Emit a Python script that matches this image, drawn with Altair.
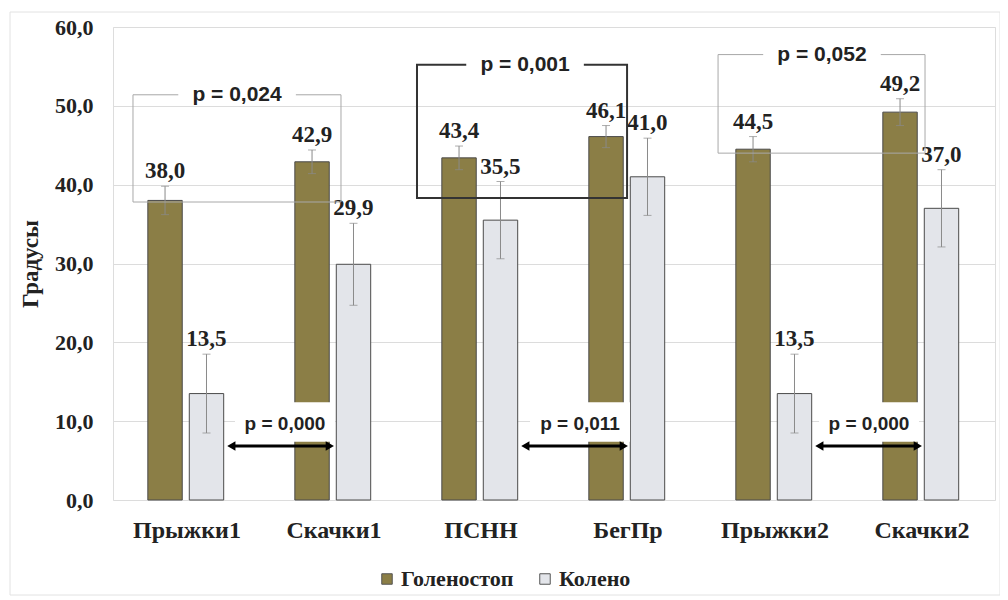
import json
import altair as alt
import pandas as pd

# ---------------- data ----------------
categories = ["Прыжки1", "Скачки1", "ПСНН", "БегПр", "Прыжки2", "Скачки2"]
series = ["Голеностоп", "Колено"]
ankle = [38.0, 42.9, 43.4, 46.1, 44.5, 49.2]
ankle_err = [1.8, 1.5, 1.5, 1.4, 1.6, 1.7]
knee = [13.5, 29.9, 35.5, 41.0, 13.5, 37.0]
knee_err = [5.0, 5.2, 4.9, 4.9, 5.0, 4.9]

# upper brackets (x in category units, y in degrees)
bracket_labels = ["p = 0,024", "p = 0,001", "p = 0,052"]
bracket_x1 = [0.136, 2.068, 4.116]
bracket_x2 = [1.551, 3.497, 5.524]
bracket_top = [51.4, 55.2, 56.5]
bracket_bottom = [37.8, 38.3, 44.0]
bracket_label_x = [0.844, 2.803, 4.823]

# lower double arrows
arrow_labels = ["p = 0,000", "p = 0,011", "p = 0,000"]
arrow_x1 = [0.77, 2.77, 4.77]
arrow_x2 = [1.51, 3.51, 5.51]
arrow_y = [6.85, 6.85, 6.85]
arrow_label_x = [1.17, 3.177, 5.143]
arrow_label_y = [9.6, 9.6, 9.6]

OLIVE = "#8B7E46"
LIGHT = "#E3E5EA"

# ---------------- tables ----------------
rows = []
for i, c in enumerate(categories):
    for s, vals, errs, off in ((series[0], ankle, ankle_err, 0.354),
                               (series[1], knee, knee_err, 0.636)):
        v, e = vals[i], errs[i]
        rows.append(dict(cat=c, series=s, center=i + off,
                         left=i + off - 0.117, right=i + off + 0.117,
                         value=v, zero=0.0, lo=v - e, hi=v + e,
                         label=f"{v:.1f}".replace(".", ",")))
bars_df = pd.DataFrame(rows)

br_df = pd.DataFrame(dict(label=bracket_labels, x1=bracket_x1, x2=bracket_x2,
                          top=bracket_top, bottom=bracket_bottom,
                          lx=bracket_label_x))
br_df["bgx1"] = br_df["lx"] - 0.40
br_df["bgx2"] = br_df["lx"] + 0.40
br_df["bgy1"] = br_df["top"] - 0.7
br_df["bgy2"] = br_df["top"] + 0.7

ar_df = pd.DataFrame(dict(label=arrow_labels, x1=arrow_x1, x2=arrow_x2,
                          y=arrow_y, lx=arrow_label_x, ly=arrow_label_y))
ar_df["h1"] = ar_df["x1"] + 0.035
ar_df["h2"] = ar_df["x2"] - 0.035
ar_df["bx1"] = ar_df["lx"] - 0.34
ar_df["bx2"] = ar_df["lx"] + 0.34
ar_df["by1"] = ar_df["y"] + 0.55
ar_df["by2"] = ar_df["ly"] + 2.8

# ---------------- scales / axes ----------------
cat_expr = "%s[floor(datum.value)]" % json.dumps(categories, ensure_ascii=False)
xscale = alt.Scale(domain=[0, len(categories)], nice=False, zero=False)
yscale = alt.Scale(domain=[0, 60], nice=False)

xaxis = alt.Axis(values=[i + 0.5 for i in range(len(categories))],
                 labelExpr=cat_expr, grid=False, ticks=False, domain=False,
                 title=None, labelFont="Liberation Serif", labelFontSize=24,
                 labelFontWeight="bold", labelColor="#222222", labelPadding=18)
yaxis = alt.Axis(values=list(range(0, 61, 10)),
                 labelExpr="replace(format(datum.value, '.1f'), '.', ',')",
                 grid=True, gridColor="#dcdcdc", gridWidth=1, ticks=False,
                 domain=False, title="Градусы", titleFont="Liberation Serif",
                 titleFontSize=23, titleFontWeight="bold", titleColor="#222222",
                 titlePadding=12, labelFont="Liberation Serif", labelFontSize=22,
                 labelFontWeight="bold", labelColor="#222222", labelPadding=20)

X = lambda f, **kw: alt.X(f, scale=xscale, **kw)
Y = lambda f, **kw: alt.Y(f, scale=yscale, **kw)

frame = alt.Chart(pd.DataFrame({"a": [0]})).mark_rect(
    fillOpacity=0, stroke="#e2e2e2", strokeWidth=1
).encode(x=alt.value(-103), x2=alt.value(887), y=alt.value(-15), y2=alt.value(568))

bars = alt.Chart(bars_df).mark_rect(stroke="#4a4a4a", strokeWidth=1).encode(
    x=X("left:Q", axis=xaxis),
    x2="right:Q",
    y=Y("value:Q", axis=yaxis),
    y2="zero:Q",
    color=alt.Color("series:N",
                    scale=alt.Scale(domain=series, range=[OLIVE, LIGHT]),
                    legend=alt.Legend(orient="none", legendX=263, legendY=541,
                                      direction="horizontal", title=None,
                                      symbolType="square", symbolSize=110,
                                      symbolStrokeColor="#555555",
                                      symbolStrokeWidth=1,
                                      labelFont="Liberation Serif",
                                      labelFontSize=22, labelFontWeight="bold",
                                      labelColor="#222222", labelOffset=3,
                                      columnPadding=20)),
)

err = alt.Chart(bars_df).mark_rule(color="#8a8a8a", strokeWidth=1).encode(
    x=X("center:Q"), y=Y("lo:Q"), y2="hi:Q")
cap_hi = alt.Chart(bars_df).mark_tick(orient="horizontal", size=8, thickness=1,
                                      color="#8a8a8a").encode(
    x=X("center:Q"), y=Y("hi:Q"))
cap_lo = alt.Chart(bars_df).mark_tick(orient="horizontal", size=8, thickness=1,
                                      color="#8a8a8a").encode(
    x=X("center:Q"), y=Y("lo:Q"))

vals = alt.Chart(bars_df).mark_text(font="Liberation Serif", fontSize=23,
                                    fontWeight="bold", baseline="alphabetic",
                                    dy=-8, color="#222222").encode(
    x=X("center:Q"), y=Y("hi:Q"), text="label:N")

is_bold = alt.datum.label == "p = 0,001"
brackets = alt.Chart(br_df).mark_rect(fillOpacity=0).encode(
    x=X("x1:Q"), x2="x2:Q", y=Y("bottom:Q"), y2="top:Q",
    stroke=alt.condition(is_bold, alt.value("#333333"), alt.value("#a8a8a8")),
    strokeWidth=alt.condition(is_bold, alt.value(2), alt.value(1)),
)
br_bg = alt.Chart(br_df).mark_rect(fill="white").encode(
    x=X("bgx1:Q"), x2="bgx2:Q", y=Y("bgy1:Q"), y2="bgy2:Q")
br_txt = alt.Chart(br_df).mark_text(font="Liberation Sans", fontSize=21,
                                    fontWeight="bold", baseline="middle",
                                    color="#222222").encode(
    x=X("lx:Q"), y=Y("top:Q"), text="label:N")

ar_bg = alt.Chart(ar_df).mark_rect(fill="white").encode(
    x=X("bx1:Q"), x2="bx2:Q", y=Y("by1:Q"), y2="by2:Q")
ar_line = alt.Chart(ar_df).mark_rule(color="black", strokeWidth=3).encode(
    x=X("h1:Q"), x2="h2:Q", y=Y("y:Q"))
ar_left = alt.Chart(ar_df).mark_point(shape="triangle-left", filled=True,
                                      size=90, color="black", opacity=1).encode(
    x=X("h1:Q"), y=Y("y:Q"))
ar_right = alt.Chart(ar_df).mark_point(shape="triangle-right", filled=True,
                                       size=90, color="black", opacity=1).encode(
    x=X("h2:Q"), y=Y("y:Q"))
ar_txt = alt.Chart(ar_df).mark_text(font="Liberation Sans", fontSize=19,
                                    fontWeight="bold", baseline="middle",
                                    color="#222222").encode(
    x=X("lx:Q"), y=Y("ly:Q"), text="label:N")

chart = alt.layer(
    frame, bars, err, cap_hi, cap_lo, vals, brackets, br_bg, br_txt,
    ar_bg, ar_line, ar_left, ar_right, ar_txt
).properties(
    width=882, height=473,
    autosize=alt.AutoSizeParams(type="none"),
    padding={"left": 105, "top": 19, "right": 5, "bottom": 100},
).configure_view(stroke=None).configure(background="white")

chart.save("out.html", embed_options={"renderer": "svg", "actions": False})
